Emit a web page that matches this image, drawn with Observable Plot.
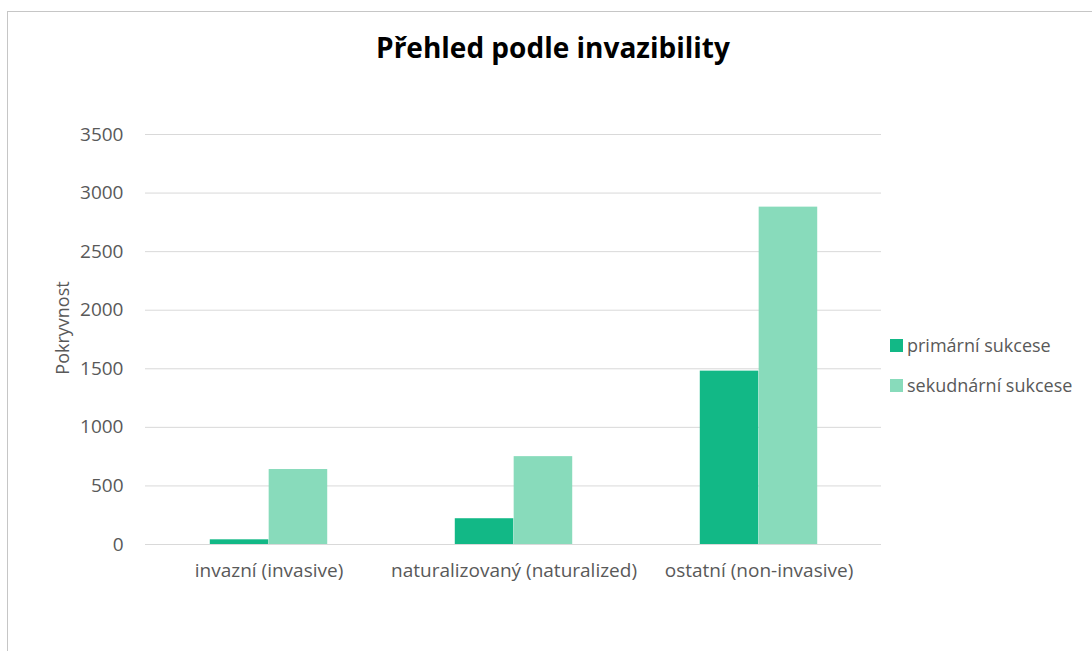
<!DOCTYPE html>
<html>
<head>
<meta charset="utf-8">
<script src="https://cdn.jsdelivr.net/npm/d3@7"></script>
<script src="https://cdn.jsdelivr.net/npm/@observablehq/plot@0.6"></script>
<style>
  body { margin: 0; background: #fff; font-family: "Open Sans", Lato, sans-serif; }
  #chart { position: relative; width: 1092px; height: 651px; overflow: hidden; }
  #frame { position: absolute; left: 7px; top: 11px; width: 1110px; height: 670px;
           border: 1px solid #c6c6c6; box-sizing: border-box; }
  #title { position: absolute; top: 33px; left: 0; width: 1106px; text-align: center;
           font-weight: bold; font-size: 28px; line-height: 28px; color: #000; }
  #plot { position: absolute; left: 0; top: 0; }
  #ylabel { position: absolute; left: 62px; top: 328px; transform: translate(-50%, -50%) rotate(-90deg);
            font-size: 18px; color: #595959; white-space: nowrap; }
  #legend { position: absolute; left: 890px; top: 333px; }
  #legend .lg-swatch { padding-bottom: 16px; margin: 0; }
  #legend .lg-swatch svg { margin-right: 4px; }
</style>
</head>
<body>
<div id="chart">
  <div id="frame"></div>
  <div id="title">Přehled podle invazibility</div>
  <div id="plot"></div>
  <div id="ylabel">Pokryvnost</div>
  <div id="legend"></div>
</div>
<script>
// Categories, series and values of the chart
const categories = ["invazní (invasive)", "naturalizovaný (naturalized)", "ostatní (non-invasive)"];
const series = ["primární sukcese", "sekudnární sukcese"];
const primaryValues = [40, 220, 1480];
const secondaryValues = [640, 750, 2880];
const yTicks = [0, 500, 1000, 1500, 2000, 2500, 3000, 3500];
const seriesColors = ["#12b886", "#88dbbb"];

const rows = categories.flatMap((c, i) => [
  {category: c, series: series[0], value: primaryValues[i]},
  {category: c, series: series[1], value: secondaryValues[i]}
]);

const width = 1092, height = 651;
const margin = {top: 134, right: 211, bottom: 107, left: 145};
const step = (width - margin.left - margin.right) / categories.length;
const barW = step * 0.24;

const axisFont = {fontFamily: "'Open Sans', Lato, sans-serif", fontSize: "19px", color: "#595959"};

const plot = Plot.plot({
  width, height,
  marginTop: margin.top, marginRight: margin.right,
  marginBottom: margin.bottom, marginLeft: margin.left,
  style: {...axisFont, background: "transparent"},
  x: {domain: categories, padding: 0, tickSize: 0, tickPadding: 19, label: null},
  y: {domain: [0, 3500], ticks: yTicks, tickFormat: "d", tickSize: 0, tickPadding: 22, label: null},
  color: {domain: series, range: seriesColors},
  marks: [
    Plot.ruleY(yTicks, {stroke: "#d9d9d9", strokeWidth: 1}),
    Plot.barY(rows.filter(d => d.series === series[0]), {
      x: "category", y: "value", fill: "series",
      insetLeft: step / 2 - barW, insetRight: step / 2
    }),
    Plot.barY(rows.filter(d => d.series === series[1]), {
      x: "category", y: "value", fill: "series",
      insetLeft: step / 2, insetRight: step / 2 - barW
    })
  ]
});
document.getElementById("plot").appendChild(plot);

const legend = Plot.legend({
  color: {domain: series, range: seriesColors},
  legend: "swatches",
  columns: 1,
  swatchSize: 13,
  className: "lg",
  style: {...axisFont, fontSize: "18px"}
});
document.getElementById("legend").appendChild(legend);
</script>
</body>
</html>
